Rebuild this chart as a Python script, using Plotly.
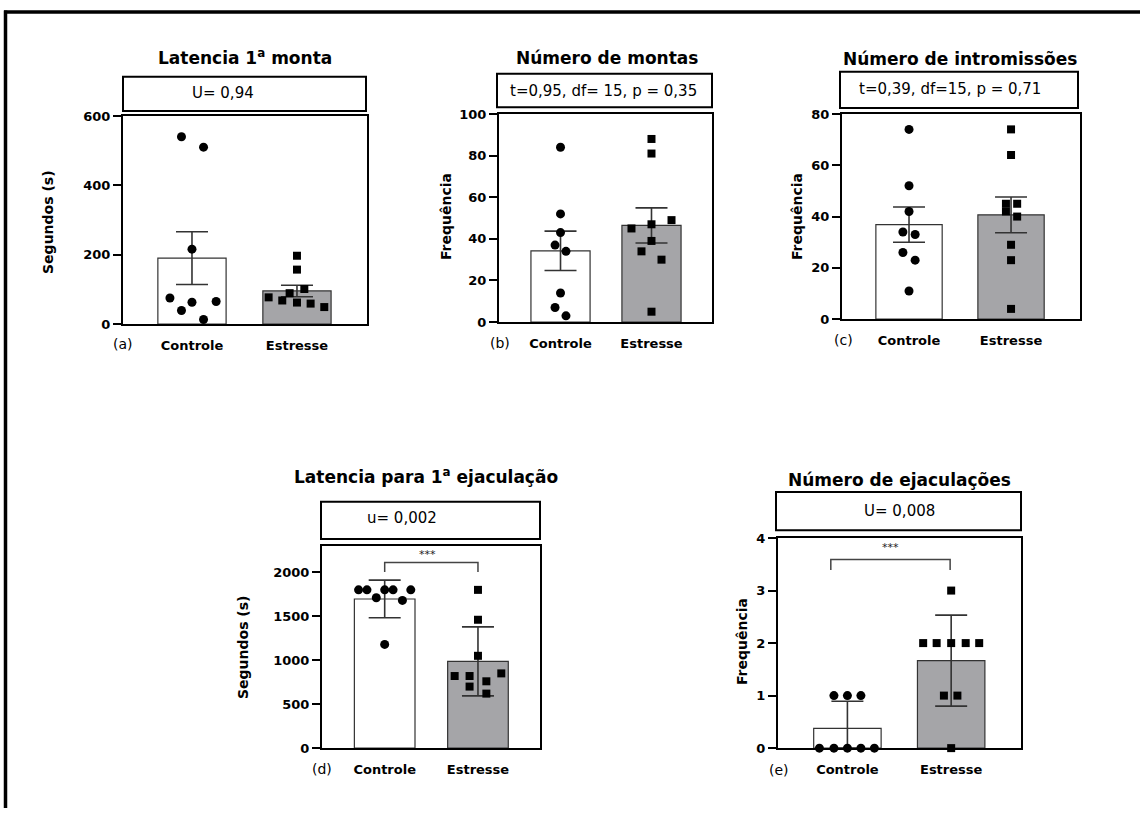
import numpy as np
import plotly.graph_objects as go

W, H = 1140, 816

groups = ["Controle", "Estresse"]

# (a) Latencia 1a monta  (segundos)
a_controle = [540, 510, 216, 75, 39, 63, 65, 13]
a_estresse = [197, 157, 101, 89, 77, 68, 62, 59, 49]
# (b) Numero de montas
b_controle = [84, 52, 43, 37, 34, 14, 7, 3]
b_estresse = [88, 81, 49, 47, 45, 39, 34, 30, 5]
# (c) Numero de intromissoes
c_controle = [74, 52, 42, 34, 33, 26, 23, 11]
c_estresse = [74, 64, 45, 42, 45, 40, 29, 23, 4]
# (d) Latencia para 1a ejaculacao (segundos)
d_controle = [1800, 1800, 1800, 1800, 1800, 1710, 1680, 1180]
d_estresse = [1800, 1460, 1050, 820, 820, 850, 760, 700, 620]
# (e) Numero de ejaculacoes
e_controle = [1, 1, 1, 0, 0, 0, 0, 0]
e_estresse = [3, 2, 2, 2, 2, 2, 1, 1, 0]

# horizontal jitter of the scatter points (category units)
a_controle_dx = [-0.10, 0.11, 0.0, -0.21, -0.10, 0.0, 0.23, 0.11]
a_estresse_dx = [0.0, 0.0, 0.07, -0.07, -0.27, -0.14, 0.0, 0.13, 0.26]
b_controle_dx = [0.0, 0.0, 0.0, -0.06, 0.06, 0.0, -0.06, 0.06]
b_estresse_dx = [0.0, 0.0, 0.22, 0.0, -0.22, 0.0, -0.11, 0.11, 0.0]
c_controle_dx = [0.0, 0.0, 0.0, -0.06, 0.06, -0.06, 0.06, 0.0]
c_estresse_dx = [0.0, 0.0, -0.05, -0.05, 0.06, 0.06, 0.0, 0.0, 0.0]
d_controle_dx = [-0.28, -0.19, 0.0, 0.09, 0.28, -0.09, 0.19, 0.0]
d_estresse_dx = [0.0, 0.0, 0.0, -0.25, -0.09, 0.25, 0.09, -0.09, 0.09]
e_controle_dx = [-0.13, 0.0, 0.13, -0.27, -0.13, 0.0, 0.13, 0.26]
e_estresse_dx = [0.0, -0.27, -0.14, 0.0, 0.14, 0.27, -0.07, 0.06, 0.0]

titles = ["Latencia 1<sup>a</sup> monta", "Número de montas", "Número de intromissões",
          "Latencia para 1<sup>a</sup> ejaculação", "Número de ejaculações"]
stats = ["U= 0,94", "t=0,95, df= 15, p = 0,35", "t=0,39, df=15, p = 0,71",
         "u= 0,002", "U= 0,008"]
ytitles = ["Segundos (s)", "Frequência", "Frequência", "Segundos (s)", "Frequência"]
letters = ["(a)", "(b)", "(c)", "(d)", "(e)"]
err_kind = ["sem", "sem", "sem", "sd", "sd"]
yticks = [[0, 200, 400, 600], [0, 20, 40, 60, 80, 100], [0, 20, 40, 60, 80],
          [0, 500, 1000, 1500, 2000], [0, 1, 2, 3, 4]]
yranges = [[0, 600], [0, 100], [0, 80], [0, 2300], [0, 4]]

data = [(a_controle, a_estresse, a_controle_dx, a_estresse_dx),
        (b_controle, b_estresse, b_controle_dx, b_estresse_dx),
        (c_controle, c_estresse, c_controle_dx, c_estresse_dx),
        (d_controle, d_estresse, d_controle_dx, d_estresse_dx),
        (e_controle, e_estresse, e_controle_dx, e_estresse_dx)]

# layout geometry in pixels
boxes = [(123, 367, 111, 323), (499, 712, 109, 321), (842, 1080, 109, 318),
         (322, 540, 549, 755), (778, 1021, 541, 755)]
xranges = [[-0.657, 1.667], [-0.676, 1.665], [-0.657, 1.676], [-0.672, 1.665], [-0.669, 1.673]]
statboxes = [(123, 366, 71, 106), (497, 712, 68, 102), (840, 1078, 66, 103),
             (321, 540, 504, 542), (776, 1021, 494, 533)]
statpos = [(223, 88), (603, 86), (950, 84), (402, 521), (899, 513)]
titlepos = [(245, 51), (607, 52), (960, 53), (426, 478), (899, 482)]
ytitlepos = [(48, 219), (446, 214), (797, 214), (243, 652), (742, 647)]
letterpos = [(123, 343), (500, 342), (843, 339), (322, 776), (779, 777)]

FONT = "DejaVu Sans"
GRAY = "#a5a5a8"
DARK = "#333333"


def px(x):
    return x / W


def py(y):
    return 1 - y / H


fig = go.Figure()
annotations = []
shapes = []
layout_axes = {}

for i in range(5):
    n = i + 1
    xr = "x" if n == 1 else f"x{n}"
    yr = "y" if n == 1 else f"y{n}"
    ctrl, estr, dxc, dxe = data[i]
    ctrl = np.array(ctrl, dtype=float)
    estr = np.array(estr, dtype=float)
    means = [ctrl.mean(), estr.mean()]
    if err_kind[i] == "sem":
        errs = [ctrl.std(ddof=1) / np.sqrt(len(ctrl)), estr.std(ddof=1) / np.sqrt(len(estr))]
    else:
        errs = [ctrl.std(ddof=1), estr.std(ddof=1)]
    errs_minus = [min(e, m) for e, m in zip(errs, means)]

    fig.add_trace(go.Bar(
        x=[0, 1], y=means, width=0.65, xaxis=xr, yaxis=yr,
        marker=dict(color=["white", GRAY], line=dict(color=DARK, width=1.2)),
        error_y=dict(type="data", array=errs, arrayminus=errs_minus, color=DARK,
                     thickness=1.6, width=16),
        showlegend=False, hoverinfo="skip"))
    fig.add_trace(go.Scatter(
        x=[0 + d for d in dxc], y=ctrl, mode="markers", xaxis=xr, yaxis=yr,
        marker=dict(symbol="circle", size=9, color="black"),
        cliponaxis=False, showlegend=False))
    fig.add_trace(go.Scatter(
        x=[1 + d for d in dxe], y=estr, mode="markers", xaxis=xr, yaxis=yr,
        marker=dict(symbol="square", size=8, color="black"),
        cliponaxis=False, showlegend=False))

    x0, x1, y0, y1 = boxes[i]
    layout_axes["xaxis" if n == 1 else f"xaxis{n}"] = dict(
        domain=[px(x0), px(x1)], range=xranges[i], anchor=yr,
        tickvals=[0, 1], ticktext=groups, showline=True, mirror=True,
        linecolor="black", linewidth=2, ticks="outside", ticklen=8,
        tickcolor="rgba(0,0,0,0)", showgrid=False, zeroline=False,
        tickfont=dict(family=FONT, size=13, color="black", weight="bold"),
        fixedrange=True)
    layout_axes["yaxis" if n == 1 else f"yaxis{n}"] = dict(
        domain=[py(y1), py(y0)], range=yranges[i], anchor=xr,
        tickvals=yticks[i], showline=True, mirror=True, linecolor="black",
        linewidth=2, ticks="outside", ticklen=8, tickwidth=2, tickcolor="black",
        showgrid=False, zeroline=False,
        tickfont=dict(family=FONT, size=13, color="black", weight="bold"),
        fixedrange=True)

    sx0, sx1, sy0, sy1 = statboxes[i]
    shapes.append(dict(type="rect", xref="paper", yref="paper",
                       x0=px(sx0), x1=px(sx1), y0=py(sy1), y1=py(sy0),
                       line=dict(color="black", width=2), fillcolor="rgba(0,0,0,0)"))
    annotations.append(dict(text=stats[i], x=px(statpos[i][0]), y=py(statpos[i][1]),
                            xref="paper", yref="paper", showarrow=False,
                            xanchor="center", yanchor="middle",
                            font=dict(family=FONT, size=15, color="black")))
    annotations.append(dict(text=f"<b>{titles[i]}</b>", x=px(titlepos[i][0]), y=py(titlepos[i][1]),
                            xref="paper", yref="paper", showarrow=False,
                            xanchor="center", yanchor="middle",
                            font=dict(family=FONT, size=17, color="black")))
    annotations.append(dict(text=f"<b>{ytitles[i]}</b>", x=px(ytitlepos[i][0]), y=py(ytitlepos[i][1]),
                            xref="paper", yref="paper", showarrow=False, textangle=-90,
                            xanchor="center", yanchor="middle",
                            font=dict(family=FONT, size=14, color="black")))
    annotations.append(dict(text=letters[i], x=px(letterpos[i][0]), y=py(letterpos[i][1]),
                            xref="paper", yref="paper", showarrow=False,
                            xanchor="center", yanchor="middle",
                            font=dict(family=FONT, size=14, color="black")))

# significance brackets (d) and (e)
shapes.append(dict(type="path", xref="x4", yref="y4",
                   path="M 0,2003 L 0,2112 L 1,2112 L 1,2003",
                   line=dict(color="#444444", width=1.5)))
annotations.append(dict(text="***", x=0.46, y=2201, xref="x4", yref="y4", showarrow=False,
                        font=dict(family=FONT, size=11, color="#222222")))
shapes.append(dict(type="path", xref="x5", yref="y5",
                   path="M -0.16,3.39 L -0.16,3.59 L 0.99,3.59 L 0.99,3.39",
                   line=dict(color="#444444", width=1.5)))
annotations.append(dict(text="***", x=0.42, y=3.82, xref="x5", yref="y5", showarrow=False,
                        font=dict(family=FONT, size=11, color="#222222")))

# outer frame (top and left edges)
shapes.append(dict(type="line", xref="paper", yref="paper", x0=px(4), x1=1.0,
                   y0=py(5), y1=py(5), line=dict(color="black", width=3.5)))
shapes.append(dict(type="line", xref="paper", yref="paper", x0=px(5.5), x1=px(5.5),
                   y0=0, y1=py(3.5), line=dict(color="black", width=3.5)))

fig.update_layout(
    width=W, height=H, margin=dict(l=0, r=0, t=0, b=0),
    paper_bgcolor="white", plot_bgcolor="white",
    showlegend=False, annotations=annotations, shapes=shapes,
    font=dict(family=FONT, color="black"), barmode="overlay",
    **layout_axes)

css_js = ("var s=document.createElement('style');"
          "s.innerHTML='html,body{margin:0!important;padding:0!important;overflow:hidden;}';"
          "document.head.appendChild(s);")
fig.write_html("out.html", config={"displayModeBar": False, "responsive": False},
               post_script=css_js)
